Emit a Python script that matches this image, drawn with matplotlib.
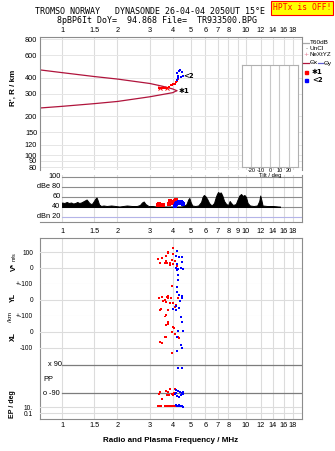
import matplotlib
matplotlib.use('Agg')
import matplotlib.pyplot as plt
from matplotlib.lines import Line2D
from matplotlib.patches import Rectangle
from matplotlib.ticker import NullLocator
import matplotlib.transforms as mtransforms

# ---- data ----
freq_top = [1, 1.5, 2, 3, 4, 5, 6, 7, 8, 10, 12, 14, 16, 18]
freq_mid = [1, 1.5, 2, 3, 4, 5, 6, 7, 8, 9, 10, 12, 14, 16, 18]
h_ticks = [80, 90, 100, 120, 150, 200, 300, 400, 600, 800]

upper_f = [0.76, 1.0, 1.5, 2.0, 3.0, 3.5, 4.0, 4.2]
upper_h = [462, 440, 410, 392, 362, 345, 328, 318]
lower_f = [0.76, 1.0, 1.5, 2.0, 3.0, 4.0, 4.2]
lower_h = [233, 240, 252, 262, 285, 307, 318]

red_top_f = [3.37, 3.45, 3.54, 3.63, 3.72, 3.82, 3.91, 3.96, 4.01, 4.12, 4.17, 4.22, 4.27]
red_top_h = [331, 334, 334, 336, 334, 342, 352, 352, 359, 359, 372, 381, 392]
red_x_f = [3.41, 3.72]
red_x_h = [334, 334]
blue_top_f = [4.22, 4.27, 4.22, 4.32, 4.49, 4.43, 4.54, 4.27, 4.37]
blue_top_h = [385, 414, 437, 453, 445, 407, 414, 400, 461]

noise_f = [1.00, 1.03, 1.06, 1.09, 1.12, 1.15, 1.18, 1.21, 1.24, 1.27, 1.30, 1.33, 1.36,
           1.38, 1.40, 1.43, 1.46, 1.49, 1.52, 1.54, 1.56, 1.59, 1.63, 1.68, 1.75, 1.85,
           1.95, 2.05, 2.15, 2.25, 2.40, 2.55, 2.65, 2.72, 2.78, 2.84, 2.95, 3.10, 3.25,
           3.60, 4.00, 4.40, 4.60, 4.75, 4.85, 4.92, 5.00, 5.10, 5.30, 5.50, 5.70, 5.80,
           5.90, 6.00, 6.15, 6.30, 6.50, 6.70, 6.85, 6.95, 7.05, 7.15, 7.30, 7.45, 7.60,
           7.80, 8.00, 8.15, 8.30, 8.50, 8.80, 9.00, 9.20, 9.40, 9.60, 9.80, 10.0, 10.2,
           10.5, 11.0, 11.5, 11.8, 11.95, 12.1, 12.3, 13.0, 14.0, 15.0, 15.3]
noise_db = [49, 48, 50, 48, 49, 47, 48, 50, 48, 49, 51, 53, 55,
            52, 49, 46, 47, 52, 57, 59, 54, 45, 42, 43, 42, 43,
            42, 41, 42, 43, 42, 42, 44, 49, 51, 46, 42, 42, 41,
            41, 41, 41, 42, 46, 55, 58, 50, 43, 42, 43, 50, 60,
            64, 62, 56, 48, 43, 48, 60, 66, 70, 68, 69, 62, 52,
            46, 44, 52, 48, 44, 46, 55, 63, 66, 62, 64, 60, 48,
            43, 42, 43, 52, 63, 55, 43, 42, 42, 41, 41]
red_db_f = [3.32, 3.38, 3.45, 3.52, 3.80, 3.86, 3.92, 3.98, 4.04, 4.10, 4.15, 4.18]
red_db = [44, 45, 44, 44, 46, 51, 47, 48, 49, 52, 54, 50]
blue_db_f = [4.12, 4.18, 4.24, 4.30, 4.36, 4.42, 4.48, 4.54]
blue_db = [42, 45, 48, 49, 48, 50, 47, 46]

red_v_f = [3.32, 3.41, 3.50, 3.67, 3.67, 3.72, 3.77, 3.86, 4.01, 3.77, 4.01, 3.96, 4.12,
           3.63, 3.86, 4.01, 4.22]
red_v = [56, 31, 62, 75, 44, 31, 100, 31, 125, 94, 87, 50, 44, 31, 19, 25, 12]
blue_v_f = [4.22, 4.17, 4.32, 4.49, 4.49, 4.22, 4.17, 4.27, 4.43, 4.54, 4.22, 4.27, 4.27]
blue_v = [106, 75, 69, 69, 37, 25, 0, -6, 0, -6, -12, -44, -75]

red_yl_f = [3.37, 3.50, 3.63, 3.67, 3.77, 3.41, 3.77, 3.67, 3.96, 3.72, 3.77, 3.91, 4.27,
            3.54, 3.86, 4.01, 4.17, 3.45, 4.01, 4.12]
red_yl = [12, 19, 0, -12, 12, -62, -62, -94, 87, 19, 25, 12, 12, -6, -19, -19, -31, -56, -56, -44]
blue_yl_f = [4.22, 4.22, 4.32, 4.49, 4.49, 4.37, 4.17, 4.32, 4.01, 4.17]
blue_yl = [81, 50, 31, 25, 12, -6, -37, -50, -56, -62]

red_xl_f = [3.41, 3.50, 3.67, 3.77, 3.67, 3.63, 3.77, 4.01, 4.06, 3.96, 4.12, 4.27, 4.32,
            3.63, 3.96]
red_xl = [-62, -69, -31, 62, 44, 100, 50, 31, 25, 0, -12, -31, -37, -31, -131]
blue_xl_f = [4.43, 4.49, 4.27, 4.54, 4.22, 4.43, 4.49, 4.22]
blue_xl = [94, 62, 6, 6, -31, -81, -100, -119]

red_pp_f = [3.37, 3.41, 3.50, 3.67, 3.72, 3.77, 3.82, 3.86, 3.96, 4.06, 4.12, 4.01]
red_pp = [-96, -83, -128, -77, -103, -83, -103, -64, -96, -90, -64, -103]
blue_pp_f = [4.29, 4.47, 4.17, 4.27, 4.37, 4.49, 4.54, 4.43, 4.22, 4.32, 4.17, 4.54, 4.12]
blue_pp = [72, 72, -70, -77, -83, -90, -96, -103, -109, -115, -90, -83, -96]

red_ep_f = [3.32, 3.37, 3.41, 3.45, 3.63, 3.67, 3.72, 3.77, 3.82, 3.86, 3.91, 3.96, 4.01, 4.06, 4.12]
red_ep = [25, 25, 25, 25, 25, 25, 25, 25, 25, 25, 25, 20, 25, 20, 25]
blue_ep_f = [4.17, 4.22, 4.27, 4.32, 4.37, 4.43, 4.49, 4.54]
blue_ep = [40, 30, 20, 35, 25, 15, 30, 10]

tilt_deg = [-1, 1]
tilt_count = [0.04, 0.04]

F_LO, F_HI = 0.759, 20.15
W, H = 335, 451
GRID = '#dcdcdc'
FRAME = '#8c8c8c'
RED = '#ff0000'
BLUE = '#0000ff'
CRIMSON = '#b0143c'
SANS = ['Liberation Sans', 'DejaVu Sans']

fig = plt.figure(figsize=(W / 100, H / 100), dpi=100)


def rect(top, bottom, left=40, right=302):
    return [left / W, 1 - bottom / H, (right - left) / W, (bottom - top) / H]


def fx(px):
    return px / W


def fy(py):
    return 1 - py / H


def freq_axis(ax):
    ax.set_xscale('log')
    ax.set_xlim(F_LO, F_HI)
    ax.xaxis.set_minor_locator(NullLocator())
    ax.yaxis.set_minor_locator(NullLocator())


def vgrid(ax, freqs):
    for f in freqs:
        ax.axvline(f, color=GRID, lw=0.8, zorder=0)


def dots(ax, f, v, color, marker='s', ms=1.9):
    ax.plot(f, v, ls='none', marker=marker, ms=ms, color=color, mew=0 if marker == 's' else 0.7)


# ---- title ----
fig.text(fx(150), fy(12), 'TROMSO NORWAY   DYNASONDE 26-04-04 2050UT 15°E',
         family='DejaVu Sans Mono', fontsize=6, ha='center', va='center')
fig.text(fx(157), fy(20.5), '8pBP6It DoY=  94.868 File=  TR933500.BPG',
         family='DejaVu Sans Mono', fontsize=6, ha='center', va='center')
fig.text(fx(302), fy(8), 'HPTx is OFF!', family='DejaVu Sans Mono', fontsize=5.8,
         color='red', ha='center', va='center',
         bbox=dict(boxstyle='square,pad=0.25', fc='#ffff00', ec='red', lw=0.8))

# ---- virtual / real height panel ----
ax = fig.add_axes(rect(37, 170))
freq_axis(ax)
ax.set_yscale('log')
ax.set_ylim(76.4, 835)
ax.yaxis.set_minor_locator(NullLocator())
vgrid(ax, freq_mid)
for h in h_ticks:
    ax.axhline(h, color='#e6e6e6', lw=0.7, zorder=0)
ax.xaxis.tick_top()
ax.set_xticks(freq_top)
ax.set_xticklabels([f'{f:g}' for f in freq_top])
ax.set_yticks(h_ticks)
ax.set_yticklabels([str(h) for h in h_ticks])
ax.tick_params(length=0, labelsize=5.3, pad=2, colors='black')
for lab in ax.get_xticklabels() + ax.get_yticklabels():
    lab.set_family(SANS)
for s in ax.spines.values():
    s.set_color(FRAME)
    s.set_linewidth(0.8)
ax.spines['bottom'].set_visible(False)
ax.plot(upper_f, upper_h, color=CRIMSON, lw=0.9)
ax.plot(lower_f, lower_h, color=CRIMSON, lw=0.9)
dots(ax, red_top_f, red_top_h, RED)
dots(ax, red_x_f, red_x_h, RED, marker='x', ms=2.2)
dots(ax, blue_top_f, blue_top_h, BLUE)
ax.text(4.28, 318, '✱1', fontsize=5, fontweight='bold', va='center', ha='left')
ax.text(4.58, 412, '<2', fontsize=5, fontweight='bold', va='center', ha='left')

# ---- dBe noise panel (transparent so the tilt caption stays visible) ----
axd = fig.add_axes(rect(175, 222), facecolor='none')
freq_axis(axd)
axd.set_ylim(10, 104)
vgrid(axd, freq_mid)
x0 = 22 / 262
for lvl in [100, 80, 60, 40]:
    axd.axhline(lvl, xmin=x0, color='#8c8c8c', lw=0.8, zorder=1)
axd.axhline(20, xmin=x0, color='#b4b4e8', lw=0.8, zorder=1)
lbl_tr = mtransforms.blended_transform_factory(axd.transAxes, axd.transData)
for lvl, txt in [(100, '100'), (80, 'dBe 80'), (60, '60'), (40, '40'), (20, 'dBn 20')]:
    axd.text(0.078, lvl, txt, transform=lbl_tr, fontsize=5.3, ha='right', va='center',
             family=SANS)
axd.fill_between(noise_f, 40, noise_db, color='black', lw=0.7, zorder=2)
dots(axd, red_db_f, red_db, RED, ms=2.2)
dots(axd, blue_db_f, blue_db, BLUE, ms=2.2)
axd.set_xticks(freq_mid)
axd.set_xticklabels([f'{f:g}' for f in freq_mid])
axd.set_yticks([])
axd.tick_params(length=0, labelsize=5.3, pad=4)
for lab in axd.get_xticklabels():
    lab.set_family(SANS)
for s in axd.spines.values():
    s.set_color(FRAME)
    s.set_linewidth(0.8)
axd.spines['left'].set_visible(False)
axd.spines['top'].set_visible(False)

# tilt inset
axt = fig.add_axes(rect(65, 167, 242, 298))
axt.set_xlim(-30, 30)
axt.set_ylim(0, 1)
for t in [-20, -10, 0, 10, 20]:
    axt.axvline(t, color='#c8c8c8', lw=0.8, zorder=0)
axt.bar(tilt_deg[0], tilt_count[0], width=0.9, color=RED)
axt.bar(tilt_deg[1], tilt_count[1], width=0.9, color=BLUE)
axt.set_yticks([])
axt.set_xticks([-20, -10, 0, 10, 20])
axt.set_xticklabels(['-20', '-10', '0', '10', '20'])
axt.tick_params(length=0, labelsize=4, pad=0.5)
for lab in axt.get_xticklabels():
    lab.set_family(SANS)
axt.set_xlabel('Tilt / deg', fontsize=4.2, labelpad=0, family=SANS)
for s in axt.spines.values():
    s.set_color('#b0b0b0')
    s.set_linewidth(0.8)

# legend in right margin
fs_leg = 4.6
fig.add_artist(Line2D([fx(303), fx(309)], [fy(43)] * 2, color='#a8a8a8', lw=0.9))
fig.text(fx(310), fy(43), 'T60dB', fontsize=fs_leg, va='center', family=SANS)
fig.text(fx(306), fy(49), '·', fontsize=fs_leg, va='center', ha='center')
fig.text(fx(310), fy(49), 'UnCl', fontsize=fs_leg, va='center', family=SANS)
fig.text(fx(306), fy(55), '+', fontsize=fs_leg, va='center', ha='center', color='#e07890')
fig.text(fx(310), fy(55), 'NeXtYZ', fontsize=fs_leg - 0.2, va='center', family=SANS)
fig.add_artist(Line2D([fx(303), fx(309)], [fy(63)] * 2, color=CRIMSON, lw=0.9))
fig.text(fx(310), fy(63), 'Θx', fontsize=fs_leg, va='center', family=SANS)
fig.add_artist(Line2D([fx(318), fx(323)], [fy(63)] * 2, color='#6060d0', lw=0.9))
fig.text(fx(324), fy(63), 'Θy', fontsize=fs_leg, va='center', family=SANS)
fig.add_artist(Rectangle((fx(305), fy(73.5)), 3 / W, 3 / H, color=RED,
                         transform=fig.transFigure))
fig.text(fx(312), fy(72), '✱1', fontsize=5, va='center', fontweight='bold')
fig.add_artist(Rectangle((fx(305), fy(81.5)), 3 / W, 3 / H, color=BLUE,
                         transform=fig.transFigure))
fig.text(fx(312), fy(80), '<2', fontsize=5, va='center', fontweight='bold')

fig.text(fx(13), fy(88), "R', R / km", rotation=90, fontsize=5.8, fontweight='bold',
         ha='center', va='center', family=SANS)

# ---- lower stacked panel frame ----
axl = fig.add_axes(rect(238, 419))
freq_axis(axl)
axl.set_ylim(0, 1)
vgrid(axl, freq_top)
axl.set_yticks([])
axl.set_xticks(freq_top)
axl.set_xticklabels([f'{f:g}' for f in freq_top])
axl.tick_params(axis='x', which='both', top=True, labeltop=False, length=0, labelsize=5.3, pad=2)
for lab in axl.get_xticklabels():
    lab.set_family(SANS)
for s in axl.spines.values():
    s.set_color(FRAME)
    s.set_linewidth(0.8)
axl.set_xlabel('Radio and Plasma Frequency / MHz', fontsize=5.8, fontweight='bold',
               labelpad=6, family=SANS)


def band(top, bottom, ylim, log=False):
    b = fig.add_axes(rect(top, bottom), facecolor='none')
    freq_axis(b)
    if log:
        b.set_yscale('log')
        b.yaxis.set_minor_locator(NullLocator())
    b.set_ylim(*ylim)
    for s in b.spines.values():
        s.set_visible(False)
    b.set_xticks([])
    b.tick_params(axis='y', length=0, labelsize=4.8, pad=5)
    return b


def set_band_ticks(b, vals, labels):
    b.set_yticks(vals)
    b.set_yticklabels(labels)
    for lab in b.get_yticklabels():
        lab.set_family(SANS)


bv = band(238, 284, (-100, 187.5))
for v in [100, 0, -100]:
    bv.axhline(v, color=GRID, lw=0.8, zorder=0)
set_band_ticks(bv, [100, 0, -100], ['100', '0', '+-100'])
dots(bv, red_v_f, red_v, RED)
dots(bv, blue_v_f, blue_v, BLUE)

byl = band(284, 316, (-100, 100))
for v in [0, -100]:
    byl.axhline(v, color=GRID, lw=0.8, zorder=0)
set_band_ticks(byl, [0, -100], ['0', '+-100'])
dots(byl, red_yl_f, red_yl, RED)
dots(byl, blue_yl_f, blue_yl, BLUE)

bxl = band(316, 358, (-162.5, 100))
for v in [0, -100]:
    bxl.axhline(v, color=GRID, lw=0.8, zorder=0)
set_band_ticks(bxl, [0, -100], ['0', '-100'])
dots(bxl, red_xl_f, red_xl, RED)
dots(bxl, blue_xl_f, blue_xl, BLUE)

bpp = band(358, 401, (-141, 134.6))
bpp.set_yticks([])
for v in [90, -90]:
    bpp.axhline(v, xmin=x0, color='#7c7c7c', lw=0.9, zorder=0)
pp_tr = mtransforms.blended_transform_factory(bpp.transAxes, bpp.transData)
bpp.text(0.083, 90, 'x 90', transform=pp_tr, fontsize=5.3, ha='right', va='center', family=SANS)
bpp.text(0.075, -90, 'o -90', transform=pp_tr, fontsize=5.3, ha='right', va='center', family=SANS)
bpp.text(0.012, 0, 'PP', transform=pp_tr, fontsize=5.3, ha='left', va='center', family=SANS)
dots(bpp, red_pp_f, red_pp, RED)
dots(bpp, blue_pp_f, blue_pp, BLUE)

bep = band(401, 419, (0.001, 1000), log=True)
for v in [10, 0.1]:
    bep.axhline(v, color=GRID, lw=0.8, zorder=0)
set_band_ticks(bep, [10, 0.1], ['10.', '0.1'])
dots(bep, red_ep_f, red_ep, RED)
dots(bep, blue_ep_f, blue_ep, BLUE)

# rotated axis titles
fig.text(fx(14), fy(267), 'V*', rotation=90, fontsize=5.5, fontweight='bold',
         ha='center', va='center', family=SANS)
fig.text(fx(14), fy(257), 'm/s', rotation=90, fontsize=4,
         ha='center', va='center', family=SANS)
fig.text(fx(13), fy(297), 'YL', rotation=90, fontsize=5, fontweight='bold',
         ha='center', va='center', family=SANS)
fig.text(fx(11), fy(317), '/km', rotation=90, fontsize=4.5,
         ha='center', va='center', family=SANS)
fig.text(fx(13), fy(337), 'XL', rotation=90, fontsize=5, fontweight='bold',
         ha='center', va='center', family=SANS)
fig.text(fx(13), fy(404), 'EP / deg', rotation=90, fontsize=5, fontweight='bold',
         ha='center', va='center', family=SANS)

fig.savefig('out.png', dpi=100)
